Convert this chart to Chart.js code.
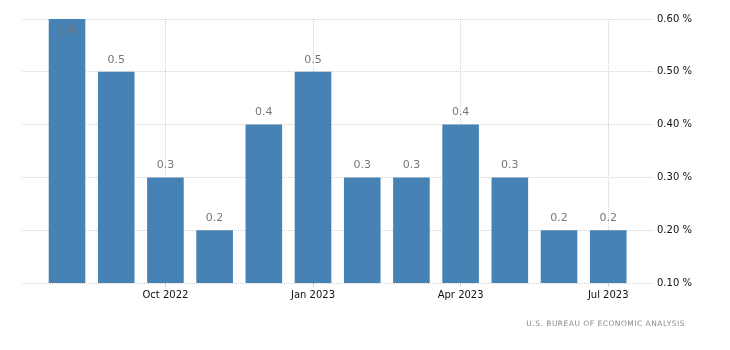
<!DOCTYPE html>
<html>
<head>
<meta charset="utf-8">
<script src="https://cdn.jsdelivr.net/npm/chart.js@4"></script>
<style>
  html, body { margin: 0; padding: 0; background: #fff; }
  #wrap { position: relative; width: 730px; height: 350px; }
  #source {
    position: absolute; right: 45px; top: 319px;
    font: 7.5px "DejaVu Sans", sans-serif; letter-spacing: 0.5px;
    color: #8a8a8a; white-space: nowrap;
  }
</style>
</head>
<body>
<div id="wrap">
  <canvas id="chart" width="730" height="350"></canvas>
  <div id="source">U.S. BUREAU OF ECONOMIC ANALYSIS</div>
</div>
<script>
// Monthly change, Aug 2022 - Jul 2023
const months = ['Aug 2022', 'Sep 2022', 'Oct 2022', 'Nov 2022', 'Dec 2022', 'Jan 2023',
                'Feb 2023', 'Mar 2023', 'Apr 2023', 'May 2023', 'Jun 2023', 'Jul 2023'];
const values = [0.6, 0.5, 0.3, 0.2, 0.4, 0.5, 0.3, 0.3, 0.4, 0.3, 0.2, 0.2];
const tickMonths = ['Oct 2022', 'Jan 2023', 'Apr 2023', 'Jul 2023'];
const yTicks = [0.1, 0.2, 0.3, 0.4, 0.5, 0.6];

const gridColor = '#d2d2d2';

// valores encima de cada barra
const valueLabels = {
    id: 'valueLabels',
    afterDatasetsDraw(chart) {
        const ctx = chart.ctx;
        const meta = chart.getDatasetMeta(0);
        ctx.save();
        ctx.font = '11px "DejaVu Sans", sans-serif';
        ctx.fillStyle = '#777';
        ctx.textAlign = 'center';
        ctx.textBaseline = 'middle';
        meta.data.forEach((bar, i) => {
            let y = bar.y - 12;
            if (y < chart.chartArea.top + 2) y = bar.y + 11;
            ctx.fillText(values[i].toFixed(1), bar.x, y);
        });
        ctx.restore();
    }
};

new Chart(document.getElementById('chart'), {
    type: 'bar',
    data: {
        datasets: [{
            data: values.map((v, i) => ({ x: i, y: v })),
            backgroundColor: '#4682b4',
            borderWidth: 0,
            barPercentage: 0.93,
            categoryPercentage: 0.8
        }]
    },
    options: {
        responsive: false,
        animation: false,
        layout: { padding: { left: 22, top: 19, right: 0, bottom: 0 } },
        plugins: {
            legend: { display: false },
            tooltip: { enabled: false }
        },
        scales: {
            x: {
                type: 'linear',
                offset: false,
                min: -0.915,
                max: 11.91,
                afterBuildTicks: axis => {
                    axis.ticks = tickMonths.map(m => ({ value: months.indexOf(m) }));
                },
                afterFit: axis => { axis.height = 67; },
                ticks: {
                    callback: v => months[v],
                    color: '#111',
                    font: { family: 'DejaVu Sans', size: 10 },
                    padding: 2,
                    maxRotation: 0
                },
                grid: {
                    offset: false,
                    color: gridColor,
                    tickColor: gridColor,
                    tickLength: 4
                },
                border: { display: false, dash: [1, 1] }
            },
            y: {
                position: 'right',
                min: 0.1,
                max: 0.6,
                afterBuildTicks: axis => {
                    axis.ticks = yTicks.map(v => ({ value: v }));
                },
                afterFit: axis => { axis.width = 77; },
                ticks: {
                    callback: v => v.toFixed(2) + ' %',
                    color: '#111',
                    font: { family: 'DejaVu Sans', size: 10 },
                    padding: 4
                },
                grid: {
                    color: gridColor,
                    drawTicks: false
                },
                border: { display: false, dash: [1, 1] }
            }
        }
    },
    plugins: [valueLabels]
});
</script>
</body>
</html>
